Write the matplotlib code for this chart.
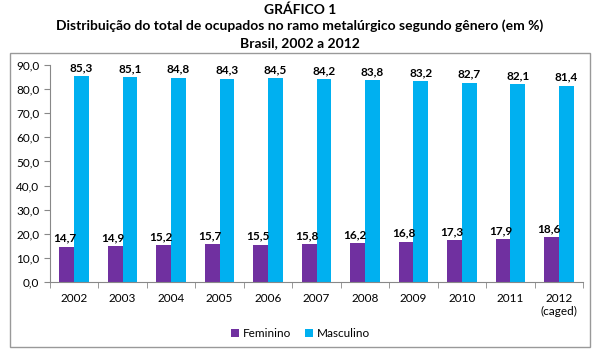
import numpy as np
import matplotlib
matplotlib.use("Agg")
import matplotlib.pyplot as plt
from matplotlib.patches import Rectangle

plt.rcParams['font.family'] = ['Lato', 'DejaVu Sans']

anos = ['2002', '2003', '2004', '2005', '2006', '2007', '2008', '2009', '2010', '2011', '2012\n(caged)']
feminino = [14.7, 14.9, 15.2, 15.7, 15.5, 15.8, 16.2, 16.8, 17.3, 17.9, 18.6]
masculino = [85.3, 85.1, 84.8, 84.3, 84.5, 84.2, 83.8, 83.2, 82.7, 82.1, 81.4]

roxo = '#7030A0'
azul = '#00B0F0'

fig = plt.figure(figsize=(6, 3.57), dpi=100)
ax = fig.add_axes([0.083, 0.21, 0.889, 0.608])

x = np.arange(len(anos))
w = 0.3
b1 = ax.bar(x - w / 2, feminino, w, color=roxo, label='Feminino')
b2 = ax.bar(x + w / 2, masculino, w, color=azul, label='Masculino')

def fmt(v):
    return f'{v:.1f}'.replace('.', ',')

for rect, v in zip(b1, feminino):
    ax.text(rect.get_x() + rect.get_width() / 2 - 0.05, v + 1.2, fmt(v),
            ha='center', va='bottom', fontsize=8.5, fontweight='bold')
for rect, v in zip(b2, masculino):
    ax.text(rect.get_x() + rect.get_width() / 2, v + 1.2, fmt(v),
            ha='center', va='bottom', fontsize=8.5, fontweight='bold')

ax.set_xlim(-0.5, len(anos) - 0.5)
ax.set_ylim(0, 90)
ax.set_yticks(np.arange(0, 91, 10))
ax.set_yticklabels([fmt(v) for v in np.arange(0, 91, 10)], fontsize=8.5)
ax.set_xticks(x)
ax.set_xticklabels(anos, fontsize=8.5)
ax.set_xticks(np.arange(-0.5, len(anos), 1), minor=True)
ax.tick_params(axis='x', which='major', length=0, pad=8)
ax.tick_params(axis='x', which='minor', length=4, color='#888888')
ax.tick_params(axis='y', length=4, color='#888888')
for s in ['top', 'right']:
    ax.spines[s].set_visible(False)
for s in ['left', 'bottom']:
    ax.spines[s].set_color('#888888')

ax.legend(loc='upper center', bbox_to_anchor=(0.47, -0.165), ncol=2, frameon=False,
          fontsize=8.5, handlelength=0.7, handleheight=0.7, columnspacing=1.2, handletextpad=0.3)

fig.text(0.5, 0.972, 'GRÁFICO 1', ha='center', va='center', fontsize=10, fontweight='bold')
fig.text(0.5, 0.927, 'Distribuição do total de ocupados no ramo metalúrgico segundo gênero (em %)',
         ha='center', va='center', fontsize=10, fontweight='bold')
fig.text(0.5, 0.88, 'Brasil, 2002 a 2012', ha='center', va='center', fontsize=10, fontweight='bold')

fig.patches.append(Rectangle((10 / 600, 1 - 347 / 357), 580 / 600, 294 / 357,
                             transform=fig.transFigure, fill=False, edgecolor='#999999', lw=1))

fig.savefig('out.png', dpi=100)
